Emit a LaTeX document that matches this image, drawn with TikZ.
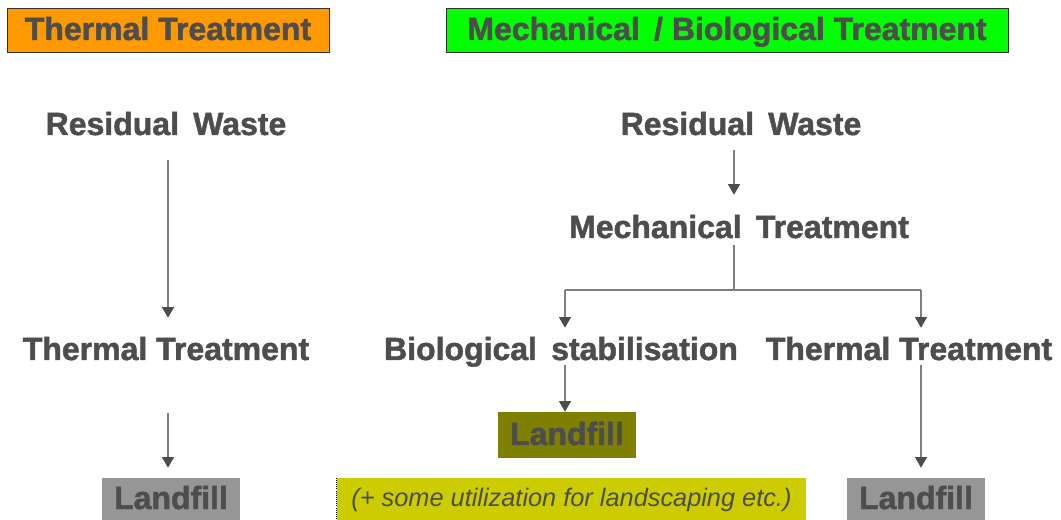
\documentclass[tikz,border=0pt]{standalone}
\usepackage{fontspec}
\setmainfont{Liberation Sans}[BoldFeatures={FakeBold=1.5}]
\usetikzlibrary{arrows.meta}
\definecolor{txt}{HTML}{4D4D4D}
\definecolor{linegray}{HTML}{7F7F7F}
\definecolor{orangebox}{HTML}{FF9900}
\definecolor{greenbox}{HTML}{00FF00}
\definecolor{olivebox}{HTML}{808000}
\definecolor{yellowbox}{HTML}{CCCC00}
\definecolor{graybox}{HTML}{969696}
\begin{document}
\begin{tikzpicture}[x=0.75pt,y=-0.75pt,
  lbl/.style={font=\fontsize{24}{28}\selectfont\bfseries, text=txt, inner sep=0pt, text height=18pt, text depth=3pt},
  header/.style={lbl, draw=black!80, line width=0.6pt, minimum height=33pt},
  fillbox/.style={lbl, minimum width=103.5pt},
  arr/.style={draw=linegray, line width=1.1pt, -{Triangle[width=9pt,length=8pt,color=txt]}},
  conn/.style={draw=linegray, line width=1.1pt}]
\useasboundingbox (0,0) rectangle (1061,520);
% headers
\node[header, fill=orangebox, minimum width=241.5pt] (hL) at (168,30) {Thermal Treatment};
\node[header, fill=greenbox, minimum width=421.5pt] (hR) at (727,30) {Mechanical \,/ Biological Treatment};
% left column
\node[lbl] (rwL) at (166,125) {Residual \,Waste};
\node[lbl] (ttL) at (166,350) {Thermal Treatment};
\node[fillbox, fill=graybox, minimum height=31.5pt] (lfL) at (171,499) {Landfill};
\coordinate (xL) at (168,0);
\draw[arr] ([yshift=-15.75pt]rwL.south -| xL) -- ([yshift=13.5pt]ttL.north -| xL);
\draw[arr] ([yshift=-36.75pt]ttL.south -| xL) -- ([yshift=7.5pt]lfL.north -| xL);
% right column
\node[lbl] (rwR) at (741,125) {Residual \,Waste};
\node[lbl] (mt) at (739,228) {Mechanical \,Treatment};
\node[lbl] (bs) at (561,350) {Biological \,stabilisation};
\node[lbl] (ttR) at (909,350) {Thermal Treatment};
\node[fillbox, fill=olivebox, minimum height=34.5pt] (lfM) at (567,435) {Landfill};
\node[fillbox, fill=graybox, minimum height=31.5pt] (lfR) at (916,499) {Landfill};
\node[lbl, fill=yellowbox, minimum width=351.75pt, minimum height=31.5pt,
      font=\fontsize{19}{22}\selectfont\itshape, text height=14pt, text depth=3pt] (note) at (571.5,499) {(+ some utilization for landscaping etc.)};
\draw[black, densely dotted, line width=0.6pt] (note.north west) -- (note.south west);
\coordinate (split) at (734,290);
\coordinate (bsTop) at (565,290);
\coordinate (ttTop) at (921,290);
\draw[arr] ([yshift=-8.25pt]rwR.south -| split) -- ([yshift=14.25pt]mt.north -| split);
\draw[conn] ([yshift=-2.25pt]mt.south -| split) -- (split);
\draw[conn] (bsTop) -- (ttTop);
\draw[arr] (bsTop) -- ([yshift=6pt]bsTop |- bs.north);
\draw[arr] (ttTop) -- ([yshift=6pt]ttTop |- ttR.north);
\draw[arr] ([yshift=-0.75pt]bsTop |- bs.south) -- (bsTop |- lfM.north);
\draw[arr] ([yshift=-0.75pt]ttTop |- ttR.south) -- ([yshift=7.5pt]ttTop |- lfR.north);
\end{tikzpicture}
\end{document}
